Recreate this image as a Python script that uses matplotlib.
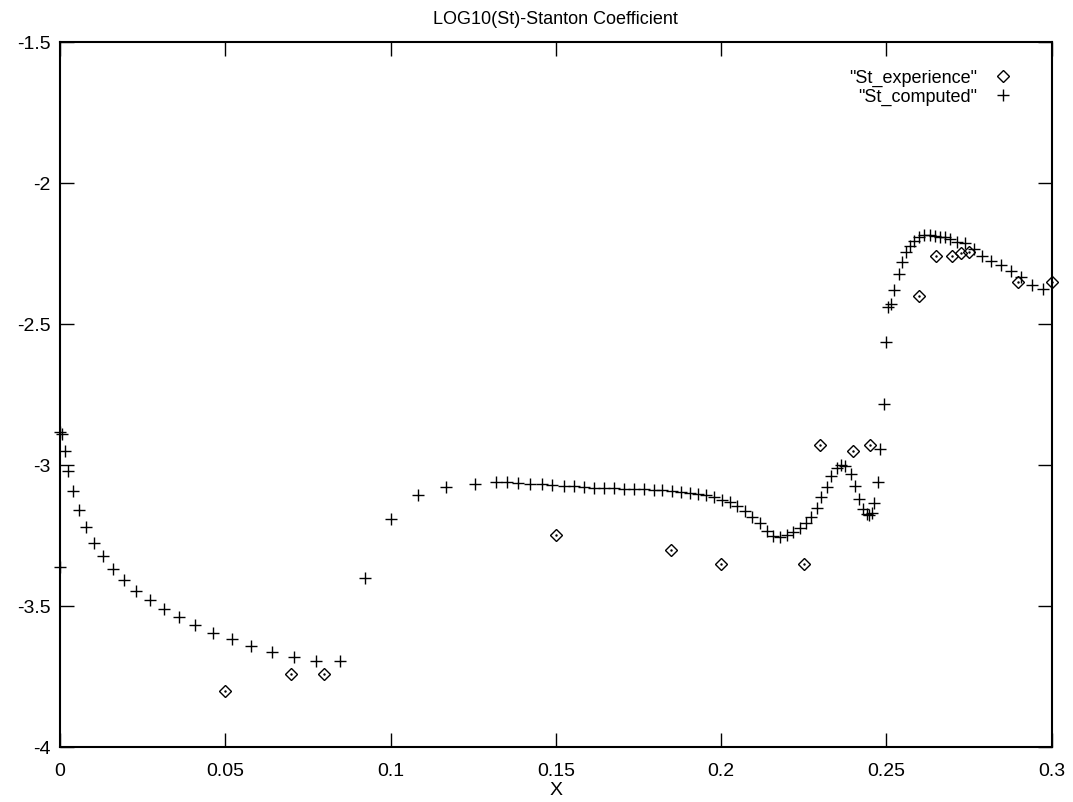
import matplotlib
matplotlib.use("Agg")
import matplotlib.pyplot as plt

plt.rcParams['font.family'] = ['Liberation Sans Narrow', 'Liberation Sans', 'DejaVu Sans']

# St_computed (plus markers)
x_comp = [0.0, 0.0, 0.0006, 0.0014, 0.0024, 0.0039, 0.0057, 0.0078, 0.0102, 0.0130,
          0.0161, 0.0194, 0.0231, 0.0271, 0.0315, 0.0361, 0.0410, 0.0462, 0.0520, 0.0579,
          0.0641, 0.0708, 0.0776, 0.0848, 0.0923, 0.1001, 0.1084, 0.1168, 0.1256, 0.1318,
          0.1352, 0.1385, 0.1423, 0.1457, 0.1490, 0.1524, 0.1554, 0.1584, 0.1615, 0.1645,
          0.1675, 0.1706, 0.1736, 0.1766, 0.1797, 0.1822, 0.1852, 0.1880, 0.1905, 0.1931,
          0.1956, 0.1979, 0.2004, 0.2027, 0.2049, 0.2072, 0.2095, 0.2118, 0.2140, 0.2158,
          0.2179, 0.2201, 0.2219, 0.2238, 0.2257, 0.2273, 0.2290, 0.2304, 0.2320, 0.2334,
          0.2351, 0.2363, 0.2375, 0.2393, 0.2406, 0.2418, 0.2430, 0.2442, 0.2449, 0.2456,
          0.2464, 0.2474, 0.2482, 0.2492, 0.2499, 0.2506, 0.2514, 0.2524, 0.2537, 0.2548,
          0.2560, 0.2573, 0.2585, 0.2600, 0.2615, 0.2631, 0.2646, 0.2664, 0.2678, 0.2694,
          0.2715, 0.2739, 0.2765, 0.2790, 0.2818, 0.2848, 0.2878, 0.2909, 0.2942, 0.2975]
y_comp = [-3.363, -2.882, -2.890, -2.951, -3.022, -3.093, -3.160, -3.221, -3.277, -3.324,
          -3.369, -3.409, -3.446, -3.480, -3.512, -3.540, -3.568, -3.595, -3.618, -3.641,
          -3.662, -3.680, -3.694, -3.696, -3.400, -3.191, -3.106, -3.079, -3.067, -3.061,
          -3.061, -3.064, -3.066, -3.069, -3.071, -3.073, -3.076, -3.079, -3.082, -3.083,
          -3.083, -3.084, -3.085, -3.086, -3.088, -3.090, -3.092, -3.095, -3.098, -3.102,
          -3.107, -3.112, -3.123, -3.132, -3.146, -3.162, -3.186, -3.207, -3.233, -3.251,
          -3.255, -3.248, -3.239, -3.223, -3.207, -3.186, -3.154, -3.115, -3.077, -3.040,
          -3.012, -2.999, -3.002, -3.032, -3.076, -3.121, -3.156, -3.174, -3.177, -3.172,
          -3.136, -3.061, -2.943, -2.784, -2.565, -2.441, -2.429, -2.379, -2.323, -2.279,
          -2.246, -2.222, -2.205, -2.193, -2.184, -2.184, -2.187, -2.190, -2.193, -2.199,
          -2.209, -2.214, -2.234, -2.258, -2.275, -2.291, -2.311, -2.335, -2.362, -2.376]

# St_experience (diamond markers)
x_exp = [0.05, 0.07, 0.08, 0.15, 0.185, 0.2, 0.225, 0.23, 0.24, 0.245,
         0.26, 0.265, 0.27, 0.2725, 0.275, 0.29, 0.3]
y_exp = [-3.80, -3.74, -3.74, -3.25, -3.30, -3.35, -3.35, -2.93, -2.95, -2.93,
         -2.40, -2.26, -2.26, -2.25, -2.245, -2.35, -2.35]

xticks = [0, 0.05, 0.1, 0.15, 0.2, 0.25, 0.3]
xticklabels = ["0", "0.05", "0.1", "0.15", "0.2", "0.25", "0.3"]
yticks = [-4, -3.5, -3, -2.5, -2, -1.5]
yticklabels = ["-4", "-3.5", "-3", "-2.5", "-2", "-1.5"]

fig = plt.figure(figsize=(10.73, 8.03), dpi=100)
ax = fig.add_axes([0.0559, 0.0685, 0.9241, 0.878])

ax.plot(x_exp, y_exp, linestyle='none', marker='D', ms=6, mfc='none', mec='black',
        mew=1.0, label='"St_experience"', clip_on=False)
ax.plot(x_exp, y_exp, linestyle='none', marker='.', ms=1.5, color='black', clip_on=False)
ax.plot(x_comp, y_comp, linestyle='none', marker='+', ms=9, mew=1.0, color='black',
        label='"St_computed"', clip_on=False)

ax.set_xlim(0, 0.3)
ax.set_ylim(-4, -1.5)
ax.set_xticks(xticks)
ax.set_xticklabels(xticklabels)
ax.set_yticks(yticks)
ax.set_yticklabels(yticklabels)
ax.tick_params(direction='in', length=10, width=1, top=True, right=True,
               labelsize=14, colors='black')
ax.tick_params(axis='x', pad=11)
ax.tick_params(axis='y', pad=7)
for s in ax.spines.values():
    s.set_linewidth(1.5)

ax.set_title("LOG10(St)-Stanton Coefficient", fontsize=13, pad=14,
             family=['Liberation Sans', 'DejaVu Sans'])
ax.set_xlabel("X", fontsize=14, labelpad=1)

leg = ax.legend(loc='upper right', bbox_to_anchor=(0.989, 1.0), markerfirst=False,
                frameon=False,
                prop={'family': ['Liberation Sans', 'DejaVu Sans'], 'size': 13},
                handlelength=1.2, handletextpad=0.8, labelspacing=0.1,
                borderaxespad=1.1, borderpad=0.4)
for t in leg.get_texts():
    t.set_ha('right')

fig.savefig("out.png", dpi=100)
